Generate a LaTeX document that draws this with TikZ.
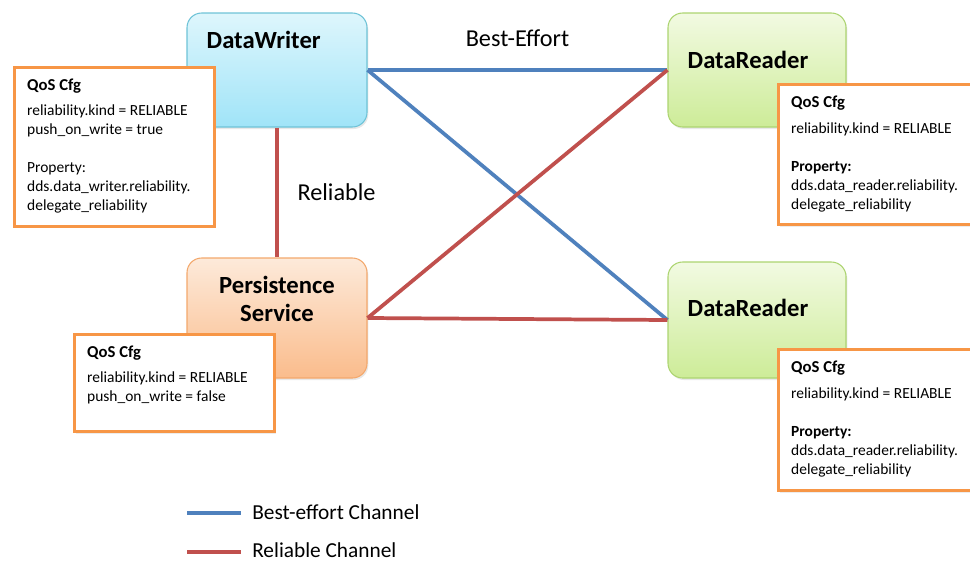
\documentclass[tikz,border=0pt]{standalone}
\usepackage{fontspec}
\setmainfont{Carlito}
\usepackage{xcolor}
\usepackage{tikz}
\usetikzlibrary{shadows}
\definecolor{wrtop}{RGB}{222,246,252}
\definecolor{wrbot}{RGB}{160,228,248}
\definecolor{wrline}{RGB}{110,195,215}
\definecolor{pstop}{RGB}{253,234,218}
\definecolor{psbot}{RGB}{250,188,140}
\definecolor{psline}{RGB}{243,168,108}
\definecolor{rdtop}{RGB}{242,250,226}
\definecolor{rdbot}{RGB}{205,236,152}
\definecolor{rdline}{RGB}{172,212,112}
\definecolor{qosline}{RGB}{247,150,70}
\definecolor{chblue}{RGB}{79,129,189}
\definecolor{chred}{RGB}{192,80,77}

\begin{document}
\begin{tikzpicture}[x=0.75pt,y=-0.75pt,
  box/.style={rectangle,rounded corners=11pt,minimum width=135pt,minimum height=85.5pt,line width=0.8pt,drop shadow={opacity=0.18,shadow xshift=1pt,shadow yshift=-1.5pt}},
  writer/.style={box,draw=wrline,top color=wrtop,bottom color=wrbot},
  persist/.style={box,draw=psline,top color=pstop,bottom color=psbot,minimum height=90pt},
  reader/.style={box,draw=rdline,top color=rdtop,bottom color=rdbot,minimum width=133.5pt},
  hdr/.style={font=\fontsize{18.5}{21}\selectfont\bfseries,inner sep=0pt},
  qos/.style={rectangle,draw=qosline,line width=2.3pt,fill=white,anchor=north west,inner xsep=9.5pt,inner ysep=8.5pt,font=\fontsize{11.6}{14.25}\selectfont,drop shadow={opacity=0.15,shadow xshift=1pt,shadow yshift=-1.5pt}},
  be/.style={line width=2.8pt,draw=chblue},
  rel/.style={line width=2.8pt,draw=chred},
  lbl/.style={font=\fontsize{18.2}{21}\selectfont,inner sep=0pt},
  leg/.style={font=\fontsize{16}{18}\selectfont,inner sep=0pt,anchor=west}
]
  \useasboundingbox (0,0) rectangle (970,561);

  % entities
  \node[writer,label={[hdr,anchor=west,xshift=15pt,yshift=22.5pt]west:DataWriter}] (wr) at (277,70) {};
  \node[persist,label={[hdr,align=center,yshift=14pt]center:{Persistence\\Service}}] (ps) at (277,318) {};
  \node[reader,label={[hdr,anchor=west,xshift=15pt,yshift=7.5pt]west:DataReader}] (dr1) at (757,70) {};
  \node[reader,minimum height=87pt,label={[hdr,anchor=west,xshift=15pt,yshift=9pt]west:DataReader}] (dr2) at (757,320) {};

  % channels
  \draw[be] (wr.east) -- node[lbl,above=16pt] {Best-Effort} (dr1.west);
  \draw[be] (wr.east) -- (dr2.west);
  \draw[rel] (wr.south) -- node[lbl,right=14pt] {Reliable} (ps.north);
  \draw[rel] (ps.east) -- (dr1.west);
  \draw[rel] (ps.east) -- (dr2.west);

  % qos settings
  \node[qos] (qwr) at (13,66) {\parbox[c][102pt][t]{131pt}{\raggedright
    {\fontsize{12.5}{14.25}\selectfont\textbf{QoS Cfg}}\\[4.5pt]
    reliability.kind = RELIABLE\\
    push\_on\_write = true\\[14.25pt]
    Property:\\
    dds.data\_writer.reliability.\\
    delegate\_reliability}};
  \node[qos] (qdr1) at (777,83) {\parbox[c][88pt][t]{131pt}{\raggedright
    {\fontsize{12.5}{14.25}\selectfont\textbf{QoS Cfg}}\\[5.5pt]
    reliability.kind = RELIABLE\\[14.25pt]
    \textbf{Property:}\\
    dds.data\_reader.reliability.\\
    delegate\_reliability}};
  \node[qos] (qps) at (73,333) {\parbox[c][55.8pt][t]{131pt}{\raggedright
    {\fontsize{12.5}{14.25}\selectfont\textbf{QoS Cfg}}\\[4.5pt]
    reliability.kind = RELIABLE\\
    push\_on\_write = false}};
  \node[qos] (qdr2) at (777,348) {\parbox[c][88.8pt][t]{131pt}{\raggedright
    {\fontsize{12.5}{14.25}\selectfont\textbf{QoS Cfg}}\\[5.5pt]
    reliability.kind = RELIABLE\\[14.25pt]
    \textbf{Property:}\\
    dds.data\_reader.reliability.\\
    delegate\_reliability}};

  % legend
  \coordinate (lg1) at (187,513);
  \coordinate (lg1e) at (241,513);
  \coordinate (lg2) at (187,552);
  \coordinate (lg2e) at (241,552);
  \draw[be] (lg1) -- (lg1e);
  \draw[rel] (lg2) -- (lg2e);
  \node[leg] (lbe) at (252,512) {Best-effort Channel};
  \node[leg] (lrel) at (252,550) {Reliable Channel};
\end{tikzpicture}
\end{document}
